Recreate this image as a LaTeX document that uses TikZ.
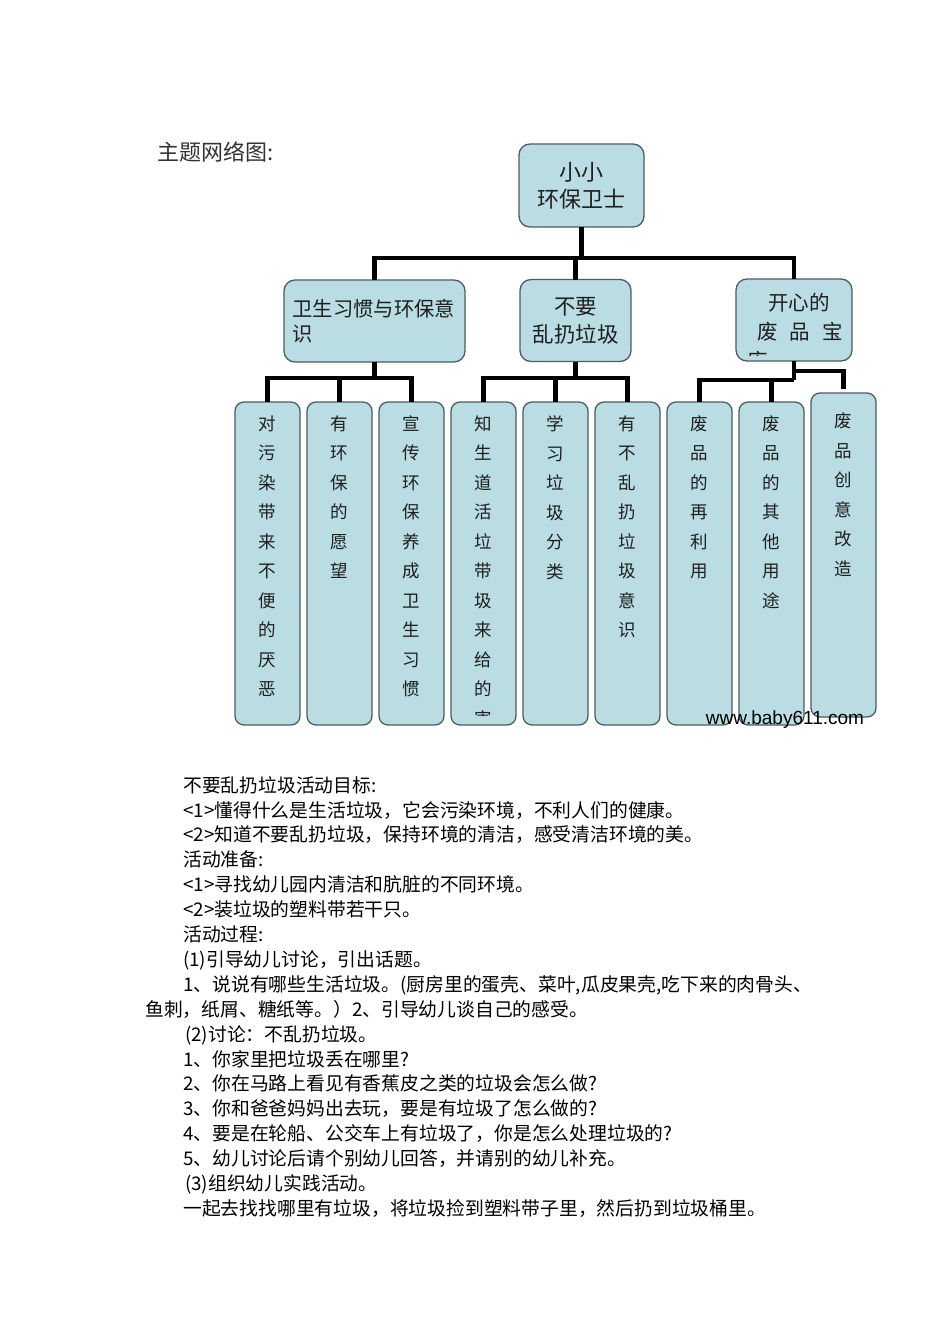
\documentclass[tikz,border=0pt]{standalone}
\usepackage{fontspec}
\setmainfont{Noto Sans CJK SC}
\newfontfamily\webfont{Liberation Sans}
\usetikzlibrary{positioning}
\definecolor{boxfill}{RGB}{185,221,226}
\definecolor{boxline}{RGB}{78,92,96}
\definecolor{inktext}{RGB}{30,30,30}

\begin{document}
\begin{tikzpicture}[
  x=1pt,y=-1pt,
  topic/.style={draw=boxline,fill=boxfill,line width=1.3pt,rounded corners=11pt,inner sep=0pt,outer sep=0pt,text=inktext},
  column/.style={topic,rounded corners=9pt,minimum width=65pt,minimum height=323pt},
  coltext/.style={inner sep=0pt,align=center,text=inktext,font=\fontsize{17.5}{29.5}\selectfont},
  conn/.style={line width=4.5pt},
  body/.style={inner sep=0pt,align=left,font=\fontsize{18.8}{24.9}\selectfont}
]
\useasboundingbox (0,0) rectangle (950,1344);
\fill[white] (0,0) rectangle (950,1344);

\node[anchor=west,inner sep=0pt,font=\fontsize{22}{26}\selectfont,text=black!80] (title) at (157,152) {主题网络图:};

% top of the tree
\node[topic,minimum width=125pt,minimum height=83pt,align=center,font=\fontsize{22}{27}\selectfont] (root) at (581.5,185.5) {小小\\环保卫士};
\node[topic,minimum width=181pt,minimum height=82pt,text width=164pt,align=left,font=\fontsize{20.3}{24.5}\selectfont] (A) at (374.5,321) {卫生习惯与环保意\\识};
\node[topic,minimum width=111pt,minimum height=82pt,align=center,font=\fontsize{21.5}{28}\selectfont] (B) at (575.5,320.5) {不要\\乱扔垃圾};
\node[topic,minimum width=116pt,minimum height=82pt] (C) at (794,320) {};
\begin{scope}
  \clip ([yshift=6pt]C.south west) rectangle (C.north east);
  \node[anchor=north west,inner sep=0pt,align=left,text=inktext,font=\fontsize{20.5}{29}\selectfont] (Ctext) at (747,293) {\hspace*{21pt}开心的\\\hspace*{10pt}废\hspace*{12pt}品\hspace*{12pt}宝\\库};
\end{scope}

% columns
\node[column] (c1) at (267.5,563.5) {};
\node[column,right=7pt of c1] (c2) {};
\node[column,right=7pt of c2] (c3) {};
\node[column,right=7pt of c3] (c4) {};
\node[column,right=7pt of c4] (c5) {};
\node[column,right=7pt of c5] (c6) {};
\node[column,right=7pt of c6] (c7) {};
\node[column,right=7pt of c7] (c8) {};
\node[column,minimum height=324pt,right=7pt of c8,yshift=8.5pt] (c9) {};

\node[coltext,below=13.5pt of c1.north] (t1) {对\\污\\染\\带\\来\\不\\便\\的\\厌\\恶};
\node[coltext,below=13.5pt of c2.north] (t2) {有\\环\\保\\的\\愿\\望};
\node[coltext,below=13.5pt of c3.north] (t3) {宣\\传\\环\\保\\养\\成\\卫\\生\\习\\惯};
\begin{scope}
  \clip ([yshift=10pt]c4.south west) rectangle (c4.north east);
  \node[coltext,below=13.5pt of c4.north] (t4) {知\\生\\道\\活\\垃\\带\\圾\\来\\给\\的\\害};
\end{scope}
\node[coltext,below=13.5pt of c5.north] (t5) {学\\习\\垃\\圾\\分\\类};
\node[coltext,below=13.5pt of c6.north] (t6) {有\\不\\乱\\扔\\垃\\圾\\意\\识};
\node[coltext,below=13.5pt of c7.north] (t7) {废\\品\\的\\再\\利\\用};
\node[coltext,below=13.5pt of c8.north] (t8) {废\\品\\的\\其\\他\\用\\途};
\node[coltext,below=20pt of c9.north] (t9) {废\\品\\创\\意\\改\\造};

% connectors
\coordinate (bus) at (581.5,258);
\draw[conn] (root.south) -- (bus);
\draw[conn] (bus) -| (A.north);
\draw[conn] (bus) -| (B.north);
\draw[conn] (bus) -| (C.north);

\coordinate (busA) at (374.5,378);
\draw[conn] (A.south) -- (busA);
\draw[conn] (busA) -| (c1.north);
\draw[conn] (busA) -| (c2.north);
\draw[conn] (busA) -| (c3.north);

\coordinate (busB) at (575.5,378);
\draw[conn] (B.south) -- (busB);
\draw[conn] (busB) -| (c4.north);
\draw[conn] (busB) -| (c5.north);
\draw[conn] (busB) -| (c6.north);

\coordinate (busC) at (794,380);
\coordinate (busC2) at (794,371);
\draw[conn] (C.south) -- (busC);
\draw[conn] (busC) -| (c7.north);
\draw[conn] (busC) -| (c8.north);
\draw[conn] (busC2) -| ([yshift=4pt]c9.north);

\node[inner sep=0pt,font=\webfont\fontsize{19}{22}\selectfont] (mark) at (785,720) {www.baby611.com};

% lesson notes under the tree
\node[body,anchor=north west] (notes) at (145,776) {%
\hspace*{38pt}不要乱扔垃圾活动目标:\\
\hspace*{38pt}<1>懂得什么是生活垃圾，它会污染环境，不利人们的健康。\\
\hspace*{38pt}<2>知道不要乱扔垃圾，保持环境的清洁，感受清洁环境的美。\\
\hspace*{38pt}活动准备:\\
\hspace*{38pt}<1>寻找幼儿园内清洁和肮脏的不同环境。\\
\hspace*{38pt}<2>装垃圾的塑料带若干只。\\
\hspace*{38pt}活动过程:\\
\hspace*{38pt}(1)引导幼儿讨论，引出话题。\\
\hspace*{38pt}1、说说有哪些生活垃圾。(厨房里的蛋壳、菜叶,瓜皮果壳,吃下来的肉骨头、\\
鱼刺，纸屑、糖纸等。）2、引导幼儿谈自己的感受。\\
\hspace*{40pt}(2)讨论：不乱扔垃圾。\\
\hspace*{38pt}1、你家里把垃圾丢在哪里?\\
\hspace*{38pt}2、你在马路上看见有香蕉皮之类的垃圾会怎么做?\\
\hspace*{38pt}3、你和爸爸妈妈出去玩，要是有垃圾了怎么做的?\\
\hspace*{38pt}4、要是在轮船、公交车上有垃圾了，你是怎么处理垃圾的?\\
\hspace*{38pt}5、幼儿讨论后请个别幼儿回答，并请别的幼儿补充。\\
\hspace*{40pt}(3)组织幼儿实践活动。\\
\hspace*{38pt}一起去找找哪里有垃圾，将垃圾捡到塑料带子里，然后扔到垃圾桶里。};
\end{tikzpicture}
\end{document}
